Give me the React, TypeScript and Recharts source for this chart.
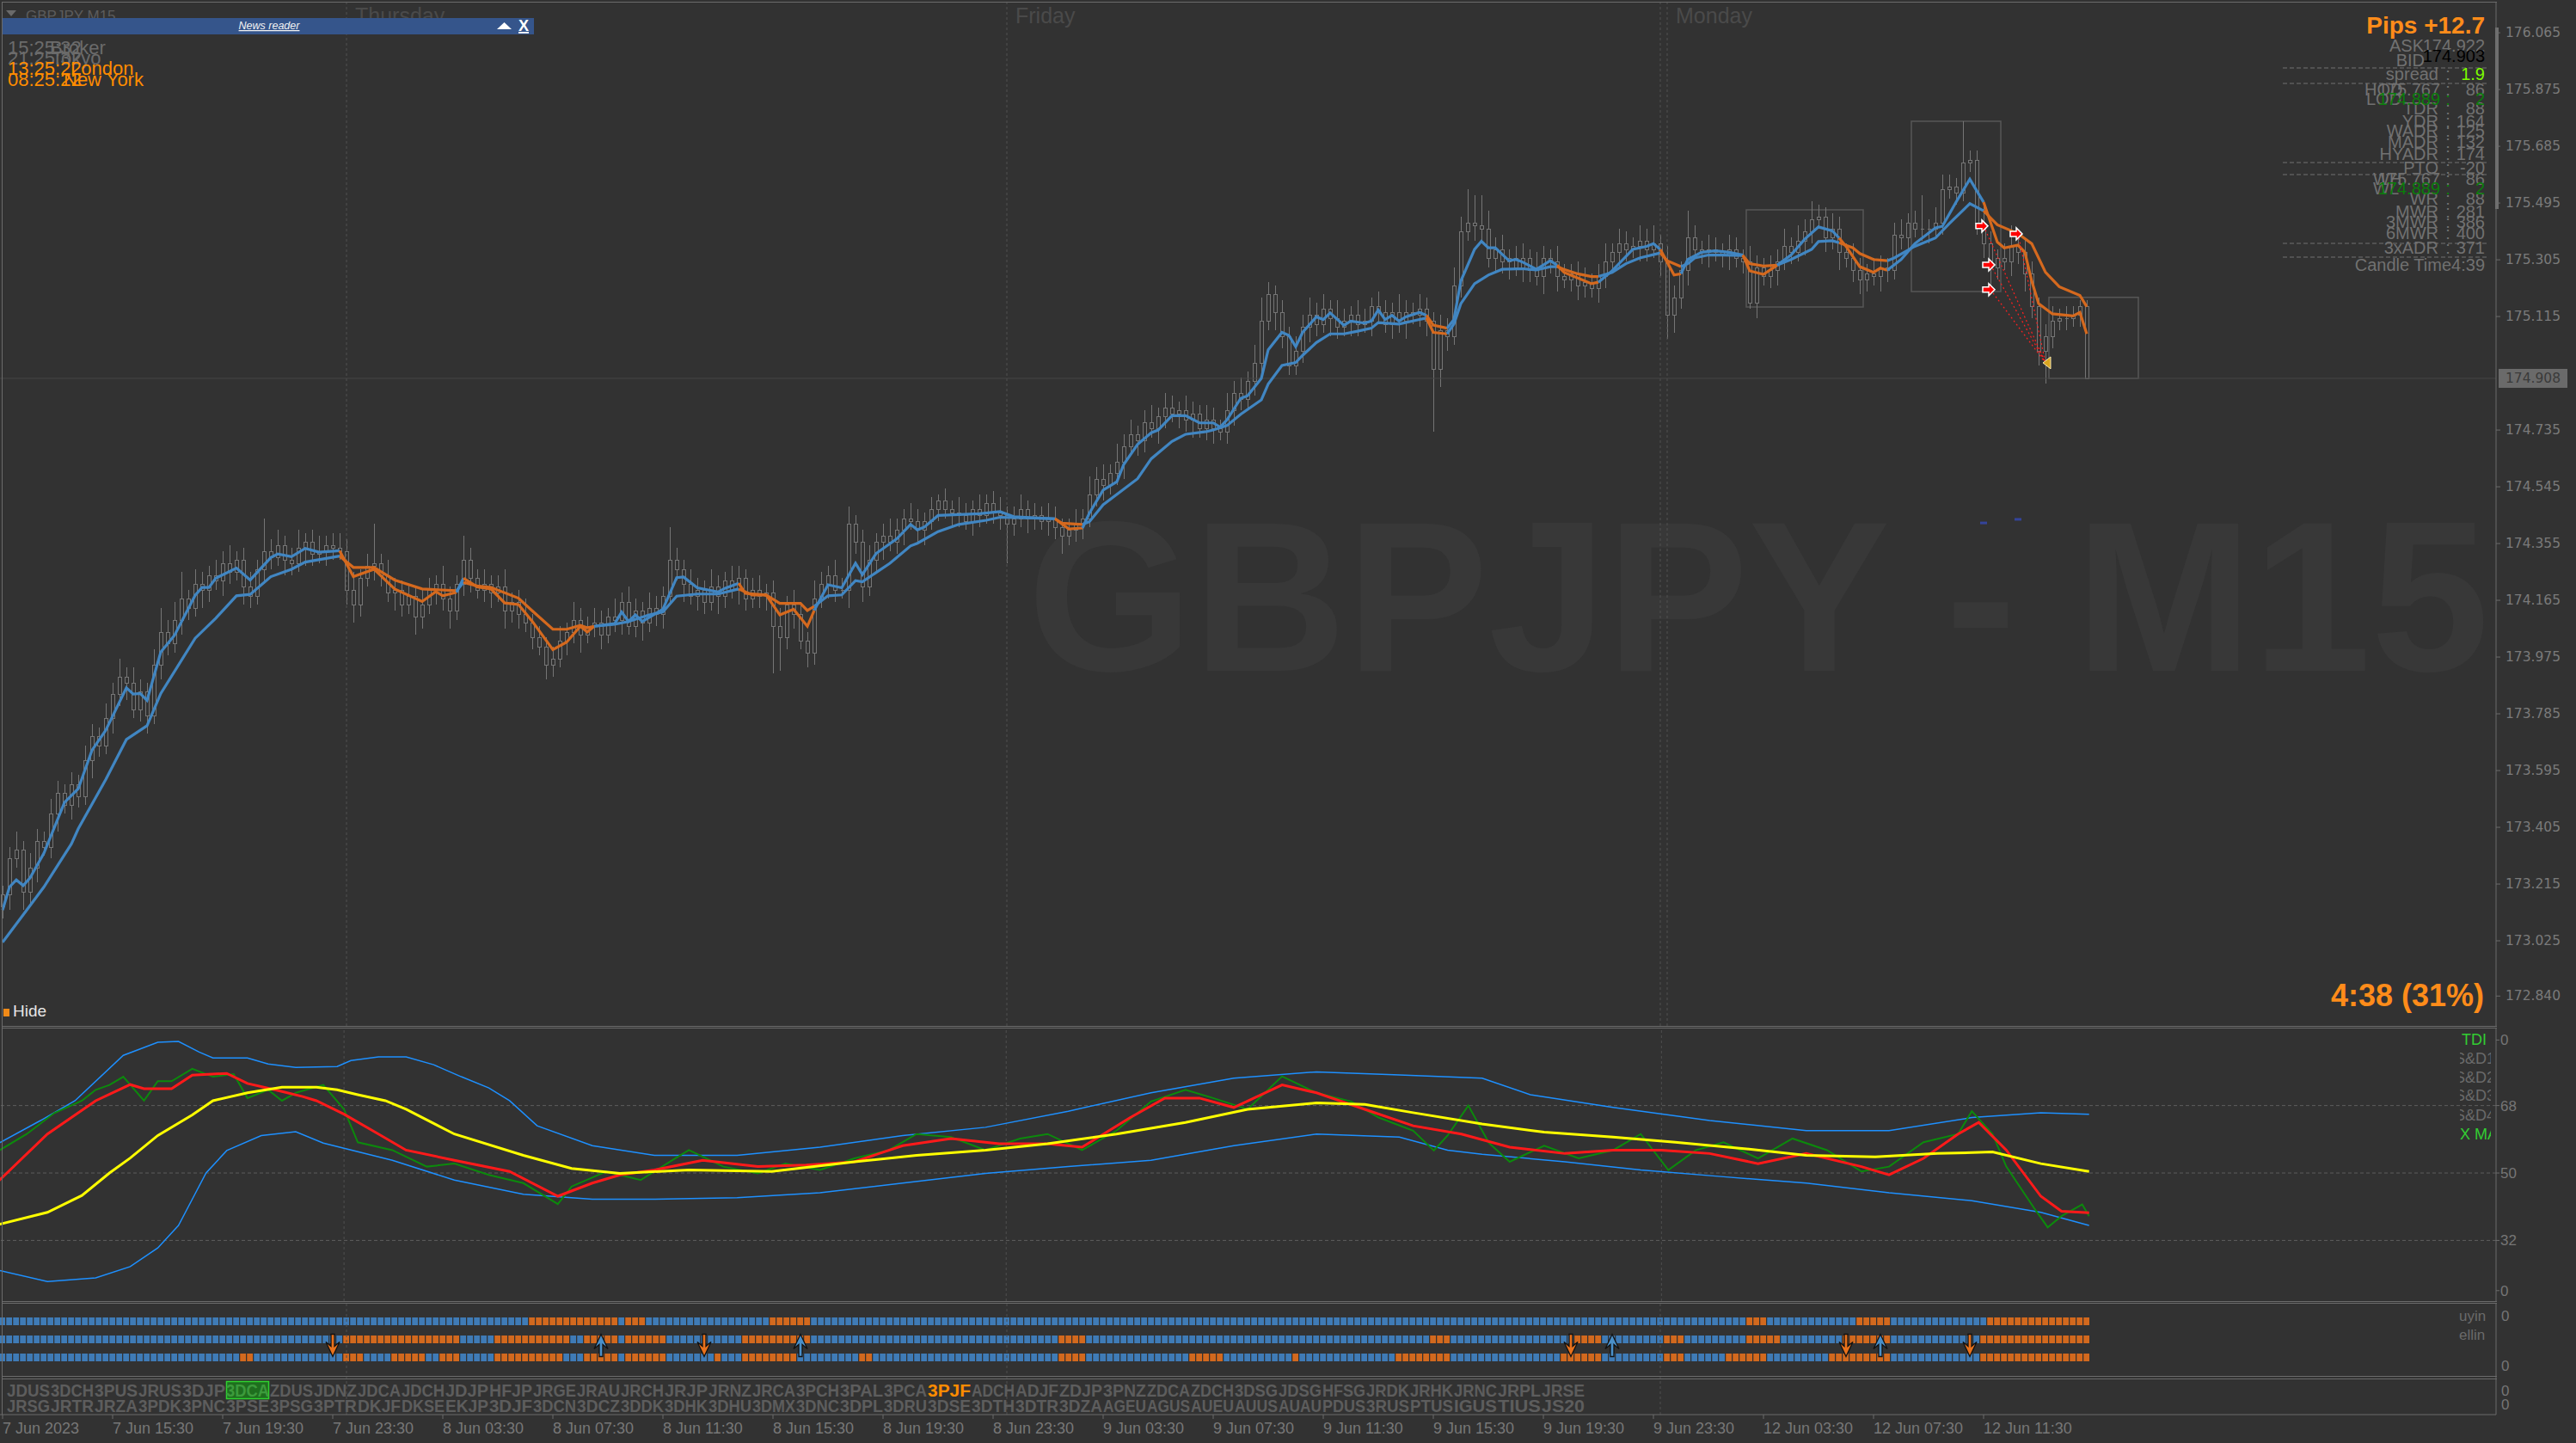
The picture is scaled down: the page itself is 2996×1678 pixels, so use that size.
import React from 'react';
import { ComposedChart, Bar, Line, Scatter, XAxis, YAxis, ReferenceLine, ReferenceArea } from 'recharts';

// ---------------- DATA ----------------
const firstOpen = 173.14;
const closes = [
  173.18,173.30,173.33,173.19,173.27,173.36,173.34,173.45,173.52,173.48,
  173.55,173.51,173.63,173.71,173.68,173.77,173.85,173.91,173.89,173.80,
  173.86,173.78,173.95,174.06,174.02,174.10,174.17,174.14,174.22,174.20,
  174.25,174.23,174.29,174.26,174.30,174.21,174.18,174.27,174.33,174.31,
  174.35,174.30,174.29,174.34,174.36,174.32,174.33,174.35,174.34,174.33,
  174.20,174.15,174.24,174.28,174.29,174.25,174.19,174.20,174.15,174.18,
  174.11,174.15,174.20,174.22,174.17,174.13,174.22,174.30,174.24,174.20,
  174.22,174.19,174.21,174.13,174.16,174.12,174.09,174.04,174.01,173.95,
  173.97,174.03,174.06,174.10,174.05,174.08,174.09,174.05,174.11,174.10,
  174.16,174.08,174.13,174.09,174.14,174.12,174.18,174.30,174.27,174.22,
  174.18,174.20,174.16,174.21,174.18,174.23,174.20,174.24,174.17,174.20,
  174.18,174.19,174.08,174.04,174.15,174.12,174.03,173.99,174.17,174.22,
  174.25,174.20,174.20,174.42,174.36,174.21,174.30,174.36,174.38,174.36,
  174.40,174.44,174.43,174.40,174.43,174.47,174.50,174.47,174.46,174.45,
  174.43,174.47,174.45,174.49,174.46,174.45,174.42,174.44,174.47,174.44,
  174.45,174.43,174.44,174.41,174.38,174.40,174.42,174.44,174.52,174.57,
  174.55,174.59,174.63,174.68,174.72,174.70,174.76,174.74,174.78,174.81,
  174.79,174.80,174.77,174.79,174.74,174.77,174.74,174.73,174.80,174.86,
  174.84,174.90,174.96,175.10,175.19,175.13,175.05,174.95,175.00,175.08,
  175.12,175.09,175.14,175.11,175.08,175.10,175.12,175.09,175.10,175.15,
  175.13,175.09,175.13,175.10,175.13,175.12,175.14,175.10,174.94,175.07,
  175.05,175.22,175.40,175.43,175.42,175.41,175.31,175.34,175.30,175.31,
  175.28,175.31,175.27,175.25,175.31,175.30,175.25,175.24,175.26,175.22,
  175.23,175.21,175.25,175.30,175.33,175.36,175.34,175.35,175.37,175.34,
  175.36,175.30,175.12,175.18,175.27,175.38,175.34,175.33,175.34,175.33,
  175.32,175.34,175.31,175.30,175.16,175.28,175.25,175.27,175.30,175.35,
  175.33,175.37,175.40,175.44,175.45,175.38,175.41,175.33,175.31,175.27,
  175.24,175.26,175.25,175.28,175.27,175.39,175.38,175.43,175.41,175.41,
  175.41,175.43,175.54,175.55,175.53,175.63,175.64,175.43,175.36,175.28,
  175.31,175.30,175.35,175.33,175.26,175.15,175.00,175.05,175.10,175.11,
  175.11,175.12,175.15,174.908,
];
// upper / lower wick lengths in pips (0.01)
const wickUp = [
  3,4,6,3,5,4,3,5,4,3, 4,3,5,4,3,5,4,6,3,5, 4,3,5,8,4,6,9,3,5,4, 3,5,4,6,3,4,5,3,11,4,
  5,3,4,6,3,4,5,3,4,5, 4,6,3,4,13,3,5,4,3,4, 3,5,4,3,6,4,3,8,4,3, 5,3,4,6,3,4,5,3,4,3,
  4,5,3,6,4,3,5,4,3,6, 3,5,4,3,5,4,3,11,4,3, 5,4,3,6,4,3,5,4,3,4, 5,3,4,6,3,5,4,3,6,4,
  3,5,4,6,3,4,5,3,4,6, 4,3,5,4,3,4,2,4,3,5, 4,3,5,3,4,5,3,4,5,3, 4,3,5,4,3,4,5,3,6,4,
  5,3,6,4,5,3,4,6,3,5, 4,3,5,4,3,5,4,3,6,4, 5,3,6,8,4,3,4,3,5,4, 6,4,5,3,6,4,3,5,4,3,
  5,4,3,6,4,3,5,4,3,5, 4,6,5,11,9,10,6,4,5,3, 4,5,3,6,4,3,5,4,3,4, 5,3,4,6,3,5,4,3,5,4,
  6,3,5,4,3,9,4,3,5,4, 3,5,4,3,5,4,3,5,4,6, 3,5,4,6,4,3,5,4,3,5, 4,3,5,4,3,4,5,3,4,11,
  3,5,5,4,3,14,3,3,6,4, 3,5,7,4,5,4,3,4,5,3, 4,3,2,2,
];
const wickDn = [
  4,5,3,6,4,5,3,4,6,3, 5,4,3,6,4,3,5,4,6,3, 4,6,3,5,4,3,5,4,3,6, 4,3,5,4,3,6,4,3,5,4,
  3,5,4,3,6,4,3,5,4,3, 5,6,4,3,5,4,3,6,4,3, 6,4,3,5,4,6,3,4,5,3, 4,5,3,6,4,5,3,4,3,5,
  4,3,5,4,6,3,4,5,3,4, 5,3,4,6,3,4,5,3,4,6, 3,5,4,3,6,4,3,5,4,3, 4,5,16,11,4,5,3,5,4,3,
  5,4,3,6,4,5,3,4,6,3, 4,5,3,4,5,3,4,3,5,4, 3,5,4,3,4,5,13,4,3,5, 4,3,5,4,6,3,4,5,3,4,
  5,3,4,6,3,5,4,3,5,4, 3,5,4,6,3,4,5,3,4,5, 4,3,5,4,3,6,4,3,3,4, 5,4,3,6,4,3,5,4,3,5,
  4,3,5,4,6,3,4,5,21,6, 5,3,4,3,5,4,3,5,4,6, 3,5,4,3,6,4,5,3,4,5, 4,3,5,4,3,5,4,3,5,4,
  3,5,8,6,4,5,3,4,5,3, 4,5,3,4,2,5,3,4,5,3, 4,3,5,4,3,5,4,6,3,4, 5,4,3,5,4,3,4,5,3,4,
  5,3,4,3,4,3,3,4,5,7, 4,3,5,4,6,4,5,11,4,3, 4,3,4,0,
];

// moving averages: [bar, value, colour of segment ending here]
const fastMA: [number, number, string][] = [
  [0,173.128,'b'],[1,173.205,'b'],[2,173.229,'b'],[3,173.21,'b'],[4,173.236,'b'],[6,173.318,'b'],[9,173.488,'b'],[11,173.534,'b'],[13,173.663,'b'],[15,173.73,'b'],[18,173.872,'b'],[19,173.851,'b'],[20,173.853,'b'],[21,173.83,'b'],[23,173.992,'b'],[25,174.048,'b'],[28,174.182,'b'],[29,174.208,'b'],[30,174.208,'b'],[31,174.239,'b'],[34,174.273,'b'],[36,174.233,'b'],[39,174.308,'b'],[40,174.32,'b'],[42,174.311,'b'],[44,174.339,'b'],[46,174.326,'b'],[49,174.331,'b'],
  [51,174.244,'o'],[54,174.269,'o'],[57,174.203,'o'],[61,174.161,'o'],[63,174.194,'o'],[64,174.18,'o'],[66,174.192,'o'],[67,174.239,'b'],[69,174.21,'o'],[71,174.203,'o'],[73,174.156,'o'],[75,174.151,'o'],[77,174.095,'o'],[80,174.0,'o'],[82,174.025,'o'],[84,174.078,'o'],[85,174.059,'o'],[86,174.078,'o'],
  [89,174.087,'b'],[90,174.126,'b'],[91,174.094,'b'],[92,174.116,'b'],[93,174.094,'b'],[96,174.135,'b'],[98,174.241,'b'],[99,174.243,'b'],[101,174.207,'b'],[104,174.193,'b'],[105,174.205,'b'],[107,174.222,'b'],
  [108,174.188,'o'],[111,174.183,'o'],[113,174.116,'o'],[115,174.135,'o'],[117,174.078,'o'],[118,174.131,'o'],
  [120,174.217,'b'],[122,174.207,'b'],[124,174.289,'b'],[125,174.251,'b'],[127,174.322,'b'],[130,174.371,'b'],[132,174.419,'b'],[133,174.401,'b'],[134,174.41,'b'],[136,174.449,'b'],[139,174.452,'b'],[142,174.455,'b'],[145,174.462,'b'],[147,174.445,'b'],[151,174.44,'b'],[153,174.438,'b'],
  [155,174.404,'o'],[157,174.407,'o'],
  [158,174.457,'b'],[160,174.534,'b'],[162,174.562,'b'],[163,174.62,'b'],[165,174.687,'b'],[167,174.726,'b'],[168,174.735,'b'],[170,174.783,'b'],[172,174.783,'b'],[174,174.759,'b'],[176,174.759,'b'],[177,174.745,'b'],[178,174.769,'b'],[180,174.841,'b'],[181,174.85,'b'],[183,174.908,'b'],[184,175.004,'b'],[186,175.062,'b'],[187,175.052,'b'],[188,175.014,'b'],[189,175.062,'b'],[191,175.114,'b'],[192,175.105,'b'],[193,175.127,'b'],[195,175.086,'b'],[196,175.1,'b'],[198,175.093,'b'],[199,175.1,'b'],[200,175.137,'b'],[201,175.105,'b'],[202,175.119,'b'],[203,175.1,'b'],[204,175.114,'b'],[206,175.129,'b'],[207,175.119,'b'],
  [208,175.086,'o'],[210,175.076,'o'],
  [211,175.105,'b'],[212,175.234,'b'],[214,175.34,'b'],[215,175.367,'b'],[216,175.345,'b'],[217,175.345,'b'],[219,175.302,'b'],[220,175.306,'b'],[221,175.297,'b'],[223,175.273,'b'],[225,175.302,'b'],[226,175.287,'b'],
  [227,175.263,'o'],[229,175.244,'o'],[231,175.225,'o'],[232,175.23,'o'],
  [234,175.268,'b'],[237,175.34,'b'],[239,175.35,'b'],[240,175.359,'b'],[241,175.34,'b'],
  [242,175.297,'o'],[243,175.254,'o'],[244,175.258,'o'],
  [245,175.306,'b'],[247,175.33,'b'],[249,175.335,'b'],[251,175.33,'b'],[253,175.321,'b'],
  [254,175.268,'o'],[256,175.256,'o'],[258,175.287,'o'],
  [260,175.321,'b'],[262,175.374,'b'],[264,175.415,'b'],[266,175.402,'b'],[267,175.378,'b'],
  [268,175.35,'o'],[270,175.282,'o'],[272,175.263,'o'],[273,175.277,'o'],[274,175.27,'o'],
  [276,175.306,'b'],[278,175.359,'b'],[281,175.412,'b'],[282,175.417,'b'],[284,175.498,'b'],[286,175.575,'b'],[288,175.498,'b'],
  [290,175.364,'o'],[291,175.345,'o'],[293,175.354,'o'],[294,175.33,'o'],[295,175.234,'o'],[296,175.158,'o'],[298,175.124,'o'],[301,175.117,'o'],[302,175.129,'o'],[303,175.057,'o'],
];
const slowMA: [number, number, string][] = [
  [0,173.02,'b'],[3,173.112,'b'],[6,173.205,'b'],[10,173.349,'b'],[11,173.4,'b'],[15,173.565,'b'],[18,173.699,'b'],[21,173.745,'b'],[23,173.853,'b'],[28,174.038,'b'],[31,174.105,'b'],[34,174.18,'b'],[36,174.185,'b'],[39,174.244,'b'],[42,174.269,'b'],[44,174.293,'b'],[49,174.313,'b'],
  [51,174.275,'o'],[54,174.275,'o'],[57,174.233,'o'],[61,174.203,'o'],[66,174.197,'o'],[67,174.225,'b'],[69,174.213,'o'],[71,174.208,'o'],[75,174.172,'o'],[77,174.13,'o'],[80,174.068,'o'],[82,174.068,'o'],[84,174.081,'o'],[85,174.073,'o'],[86,174.078,'o'],
  [89,174.085,'b'],[91,174.094,'b'],[94,174.116,'b'],[96,174.126,'b'],[98,174.179,'b'],[101,174.186,'b'],[104,174.186,'b'],[107,174.203,'b'],
  [109,174.183,'o'],[111,174.183,'o'],[113,174.155,'o'],[116,174.155,'o'],[117,174.131,'o'],[118,174.145,'o'],
  [120,174.18,'b'],[122,174.183,'b'],[124,174.231,'b'],[125,174.227,'b'],[129,174.289,'b'],[132,174.347,'b'],[133,174.356,'b'],[136,174.395,'b'],[139,174.419,'b'],[143,174.433,'b'],[145,174.443,'b'],[151,174.44,'b'],[153,174.438,'b'],
  [154,174.423,'o'],[157,174.419,'o'],
  [158,174.428,'b'],[160,174.485,'b'],[165,174.572,'b'],[167,174.639,'b'],[170,174.697,'b'],[172,174.721,'b'],[175,174.73,'b'],[176,174.735,'b'],[178,174.75,'b'],[180,174.788,'b'],[183,174.836,'b'],[184,174.889,'b'],[186,174.951,'b'],[188,174.961,'b'],[189,174.985,'b'],[191,175.028,'b'],[193,175.057,'b'],[195,175.057,'b'],[197,175.066,'b'],[199,175.076,'b'],[200,175.095,'b'],[203,175.09,'b'],[206,175.105,'b'],[207,175.11,'b'],
  [208,175.062,'o'],[210,175.057,'o'],
  [211,175.09,'b'],[212,175.158,'b'],[214,175.225,'b'],[216,175.254,'b'],[218,175.273,'b'],[221,175.275,'b'],[223,175.271,'b'],[225,175.282,'b'],[226,175.282,'b'],
  [227,175.273,'o'],[229,175.258,'o'],[231,175.249,'o'],[232,175.249,'o'],
  [234,175.263,'b'],[236,175.292,'b'],[238,175.311,'b'],[241,175.328,'b'],
  [242,175.302,'o'],[244,175.282,'o'],
  [245,175.292,'b'],[246,175.311,'b'],[248,175.321,'b'],[250,175.321,'b'],[253,175.319,'b'],
  [254,175.292,'o'],[256,175.284,'o'],[258,175.287,'o'],
  [260,175.306,'b'],[263,175.34,'b'],[264,175.366,'b'],[266,175.369,'b'],[267,175.362,'b'],
  [269,175.345,'o'],[270,175.326,'o'],[272,175.306,'o'],[274,175.302,'o'],
  [275,175.311,'b'],[278,175.35,'b'],[281,175.378,'b'],[283,175.426,'b'],[286,175.493,'b'],[288,175.469,'b'],
  [290,175.422,'o'],[293,175.393,'o'],[295,175.359,'o'],[297,175.263,'o'],[299,175.215,'o'],[302,175.186,'o'],[303,175.148,'o'],
];

// TDI panel [bar, value]
const tdiYellow: [number, number][] = [[0,36.3],[7,39.5],[12,44],[16,50],[19,54],[23,60],[28,65.5],[31,69.3],[36,71.4],[41,72.9],[46,72.9],[49,72.2],[52,70.9],[56,69.3],[59,67],[66,60.4],[76,54.7],[83,51.2],[90,49.9],[100,50.8],[112,50.4],[124,53],[133,54.7],[143,56.1],[152,57.8],[162,60.4],[172,63.5],[181,67],[191,68.7],[198,68.3],[205,66.1],[215,63.1],[224,60.9],[234,59.6],[243,58.2],[253,56.5],[262,54.7],[272,54.3],[281,55.2],[289,55.6],[296,52.5],[303,50.4]];
const tdiUpper: [number, number][] = [[0,58],[6,64],[11,69.3],[18,81.4],[23,84.9],[26,85.1],[29,82.3],[31,80.7],[36,80.7],[39,79.1],[43,78.2],[49,78.4],[51,80],[55,81],[59,81],[63,78.9],[67,75.7],[71,72.7],[74,69.3],[78,62.6],[86,57.3],[95,54.7],[107,54.7],[119,56.9],[131,60],[143,62.2],[155,66.5],[167,71.4],[179,75.3],[191,77],[203,76.2],[215,75.3],[222,70.9],[234,67.5],[248,64],[262,61.3],[274,61.3],[286,64.8],[296,66.1],[303,65.7]];
const tdiLower: [number, number][] = [[0,24],[7,21],[14,22],[19,25],[23,30],[26,36],[28,43],[30,50],[33,56],[38,60],[43,61],[47,58],[57,53.4],[66,48.1],[76,44.3],[86,43],[95,43],[107,43.4],[119,44.7],[131,47.3],[143,49.9],[155,51.7],[167,53.4],[179,57.3],[191,60.4],[203,59.6],[210,56.1],[215,55],[227,53],[238,50.8],[250,49],[262,47.3],[274,44.7],[286,42.6],[296,39.5],[303,36]];
const tdiGreen: [number, number][] = [[0,56],[4,60.4],[8,66],[12,69.3],[14,72.2],[16,73.5],[18,75.7],[21,69.3],[23,74.5],[25,74.5],[28,77.8],[31,75.7],[34,76.4],[36,70],[39,72.2],[41,69.3],[43,71.4],[47,73.5],[50,67],[52,58.2],[57,56.1],[62,51.7],[66,52.5],[71,49.5],[76,47.3],[81,41.7],[83,46.4],[88,50.4],[93,48.1],[98,53.9],[100,56.1],[105,51.7],[110,49.9],[114,52.5],[119,50.8],[124,53.9],[129,56.1],[133,60.4],[138,59.6],[143,56.1],[148,59.2],[152,60.4],[157,56.1],[162,61.3],[167,69.1],[172,72.2],[176,70],[181,67],[186,75.8],[191,71.4],[196,69.1],[200,64.8],[205,61.3],[208,56],[210,60],[213,68],[216,58],[219,53],[224,57.3],[229,53.9],[234,56.1],[238,60.4],[242,50.8],[246,56.1],[250,58.2],[255,53.9],[260,59.2],[265,56.1],[270,50.4],[274,51.7],[279,58.2],[284,60.4],[286,66.5],[289,60.4],[291,51.7],[295,40.7],[297,35.5],[299,38.5],[302,41.6],[303,38.5]];
const tdiRed: [number, number][] = [[0,48],[7,60.4],[14,69.3],[19,73.6],[21,72.5],[25,72.5],[28,76.1],[33,76.6],[36,73.9],[40,72.2],[44,70.4],[46,69.3],[50,65.7],[55,60.4],[59,56.1],[66,53.4],[74,50.4],[81,43.8],[86,47.3],[90,49.5],[95,50.8],[102,53.4],[110,51.7],[117,52.1],[124,53],[131,57.3],[138,59.2],[145,57.8],[152,57.8],[157,56.9],[164,64.8],[169,70],[174,70],[179,67.5],[186,73.5],[191,71.4],[198,67],[205,62.6],[212,60.4],[219,56.9],[227,55.2],[234,56.1],[241,56.1],[248,55.2],[255,52.5],[262,55.2],[270,51.7],[274,49.5],[279,53.9],[284,60.4],[287,63.5],[291,56.1],[296,43.8],[299,39.8],[303,39.4]];

// signal rows (runs of bars): [from, to, 'b'|'o']
const row1Runs: [number, number, string][] = [[0,76,'b'],[77,89,'o'],[90,90,'b'],[91,93,'o'],[94,111,'b'],[112,117,'o'],[118,253,'b'],[254,256,'o'],[257,269,'b'],[270,274,'o'],[275,288,'b'],[289,303,'o']];
const row2Runs: [number, number, string][] = [[0,49,'b'],[50,66,'o'],[67,71,'b'],[72,82,'o'],[83,84,'b'],[85,89,'o'],[90,90,'b'],[91,96,'o'],[97,107,'b'],[108,117,'o'],[118,153,'b'],[154,157,'o'],[158,207,'b'],[208,210,'o'],[211,228,'b'],[229,232,'o'],[233,241,'b'],[242,244,'o'],[245,253,'b'],[254,258,'o'],[259,267,'b'],[268,274,'o'],[275,287,'b'],[288,303,'o']];
const row3Runs: [number, number, string][] = [[0,34,'b'],[35,36,'o'],[37,49,'b'],[50,52,'o'],[53,56,'b'],[57,61,'o'],[62,63,'b'],[64,66,'o'],[67,71,'b'],[72,81,'o'],[82,84,'b'],[85,89,'o'],[90,90,'b'],[91,96,'o'],[97,103,'b'],[104,104,'o'],[105,107,'b'],[108,115,'o'],[116,124,'b'],[125,126,'o'],[127,153,'b'],[154,157,'o'],[158,172,'b'],[173,177,'o'],[178,187,'b'],[188,188,'o'],[189,202,'b'],[203,210,'o'],[211,226,'b'],[227,232,'o'],[233,241,'b'],[242,244,'o'],[245,250,'b'],[251,256,'o'],[257,265,'b'],[266,274,'o'],[275,287,'b'],[288,303,'o']];
const downArrows = [48, 102, 228, 268, 286];
const upArrows = [87, 116, 234, 273];

// trade markers & boxes
const tradeArrows: [number, number][] = [[288,175.418],[289,175.288],[289,175.205],[293,175.392]];
const tradeTarget: [number, number] = [297, 174.96];
const closeMarks: [number, number][] = [[288,174.424],[293,174.436]];
const boxes = [
  { i1: 254, i2: 270, hi: 175.472, lo: 175.147 },
  { i1: 278, i2: 290, hi: 175.769, lo: 175.199 },
  { i1: 298, i2: 310, hi: 175.179, lo: 174.908 },
];
const currentPrice = 174.908;

const priceTicks = [176.065,175.875,175.685,175.495,175.305,175.115,174.735,174.545,174.355,174.165,173.975,173.785,173.595,173.405,173.215,173.025,172.840];
const tdiTicks = [85.5, 68, 50, 32, 18.6];
const tdiTickLabels = ['0', '68', '50', '32', '0'];
const timeTickIdx = [0,16,32,48,64,80,96,112,128,144,160,176,192,208,224,240,256,272,288];
const timeLabels = ['7 Jun 2023','7 Jun 15:30','7 Jun 19:30','7 Jun 23:30','8 Jun 03:30','8 Jun 07:30','8 Jun 11:30','8 Jun 15:30','8 Jun 19:30','8 Jun 23:30','9 Jun 03:30','9 Jun 07:30','9 Jun 11:30','9 Jun 15:30','9 Jun 19:30','9 Jun 23:30','12 Jun 03:30','12 Jun 07:30','12 Jun 11:30'];
const daySeps = [{ i: 50, label: 'Thursday' }, { i: 146, label: 'Friday' }, { i: 241, label: '' }, { i: 242, label: 'Monday' }];

const ccyRow1 = ['JDUS','3DCH','3PUS','JRUS','3DJP','3DCA','ZDUS','JDNZ','JDCA','JDCH','JDJP','HFJP','JRGE','JRAU','JRCH','JRJP','JRNZ','JRCA','3PCH','3PAL','3PCA','3PJF','ADCH','ADJF','ZDJP','3PNZ','ZDCA','ZDCH','3DSG','JDSG','HFSG','JRDK','JRHK','JRNC','JRPL','JRSE'];
const ccyRow2 = ['JRSG','JRTR','JRZA','3PDK','3PNC','3PSE','3PSG','3PTR','DKJF','DKSE','EKJP','3DJF','3DCN','3DCZ','3DDK','3DHK','3DHU','3DMX','3DNC','3DPL','3DRU','3DSE','3DTH','3DTR','3DZA','AGEU','AGUS','AUEU','AUUS','AUAU','PDUS','3RUS','PTUS','IGUS','TIUS','JS20'];

const infoRows = [
  { label: 'spread', value: '1.9', y: 93, vc: '#7cfc00' },
  { label: 'TDR', value: '88', y: 133 },
  { label: 'YDR', value: '164', y: 148 },
  { label: 'WADR', value: '125', y: 159 },
  { label: 'MADR', value: '132', y: 172 },
  { label: 'HYADR', value: '174', y: 186 },
  { label: 'PTO', value: '-20', y: 202 },
  { label: 'WR', value: '88', y: 238 },
  { label: 'MWR', value: '281', y: 253 },
  { label: '3MWR', value: '386', y: 265 },
  { label: '6MWR', value: '400', y: 278 },
  { label: '3xADR', value: '371', y: 295 },
];

// ---------------- BUILD TABLES ----------------
const W = 2996, H = 1678;
const BG = '#323232';
const FRAME = '#6b6b6b';
const GT = '#717171';
const SANS = '"Liberation Sans", Arial, sans-serif';
const MA_COL: Record<string, string> = { b: '#4186c2', o: '#d5691e' };
const NSLOT = 363;

type Row = Record<string, any>;
const mkRows = (): Row[] => Array.from({ length: NSLOT }, (_, i) => ({ i }));

const mainRows = mkRows();
closes.forEach((c, i) => {
  const o = i === 0 ? firstOpen : closes[i - 1];
  const hi = Math.max(o, c) + (wickUp[i] ?? 3) / 100;
  const lo = Math.min(o, c) - (wickDn[i] ?? 3) / 100;
  Object.assign(mainRows[i], { o, c, hl: [lo, hi] });
});

function addRuns(rows: Row[], pts: [number, number, string][], prefix: string) {
  const runs: { color: string; pts: [number, number, string][] }[] = [];
  pts.forEach((pt, k) => {
    if (k === 0) { runs.push({ color: pt[2], pts: [pt] }); return; }
    const cur = runs[runs.length - 1];
    if (pt[2] === cur.color) cur.pts.push(pt);
    else runs.push({ color: pt[2], pts: [pts[k - 1], pt] });
  });
  return runs.map((run, j) => {
    const key = prefix + j;
    run.pts.forEach(([i, v]) => { rows[i][key] = v; });
    return { key, color: MA_COL[run.color] };
  });
}
const slowRuns = addRuns(mainRows, slowMA, 's');
const fastRuns = addRuns(mainRows, fastMA, 'f');
tradeArrows.forEach(([i, p], k) => { mainRows[i]['mk' + k] = p; });
mainRows[tradeTarget[0]].tg = tradeTarget[1];
closeMarks.forEach(([i, p], k) => { mainRows[i]['cm' + k] = p; });

const tdiRows = mkRows();
const tdiSeries = [
  { key: 'bu', pts: tdiUpper, color: '#1e90ff', w: 1.5 },
  { key: 'bl', pts: tdiLower, color: '#1e90ff', w: 1.5 },
  { key: 'gr', pts: tdiGreen, color: '#0c8a0c', w: 2 },
  { key: 'rd', pts: tdiRed, color: '#ff1a1a', w: 3 },
  { key: 'ye', pts: tdiYellow, color: '#ffff00', w: 3 },
];
tdiSeries.forEach((s) => s.pts.forEach(([i, v]) => { tdiRows[i][s.key] = v; }));

const expand = (runs: [number, number, string][]) => {
  const a: string[] = [];
  runs.forEach(([s, e, c]) => { for (let i = s; i <= e; i++) a[i] = c; });
  return a;
};
const c1 = expand(row1Runs), c2 = expand(row2Runs), c3 = expand(row3Runs);
const barRows = mkRows();
closes.forEach((_, i) => Object.assign(barRows[i], { span: [62, 113], c1: c1[i], c2: c2[i], c3: c3[i] }));
downArrows.forEach((i) => { barRows[i].dn = 80.5; });
upArrows.forEach((i) => { barRows[i].ua = 80.5; });

// ---------------- SHAPES ----------------
const CANDLE = '#757575';
const renderCandle = (p: any) => {
  const { x, y, width, height, payload } = p;
  if (!payload || !payload.hl) return <g />;
  const [lo, hi] = payload.hl;
  const top = Math.min(y, y + height), hh = Math.abs(height);
  const py = (v: number) => (hi === lo ? top : top + ((hi - v) / (hi - lo)) * hh);
  const cx = Math.floor(x + width / 2) + 0.5;
  const bt = Math.round(py(Math.max(payload.o, payload.c))) + 0.5;
  const bb = Math.round(py(Math.min(payload.o, payload.c))) + 0.5;
  return (
    <g shapeRendering="crispEdges">
      <line x1={cx} x2={cx} y1={top} y2={bt} stroke={CANDLE} strokeWidth={1} />
      <line x1={cx} x2={cx} y1={bb} y2={top + hh} stroke={CANDLE} strokeWidth={1} />
      {bb - bt < 1 ? (
        <line x1={cx - 2} x2={cx + 2} y1={bt} y2={bt} stroke={CANDLE} strokeWidth={1} />
      ) : (
        <rect x={cx - 2} y={bt} width={4} height={bb - bt} fill="none" stroke={CANDLE} strokeWidth={1} />
      )}
    </g>
  );
};

const CELL: Record<string, [string, string]> = { b: ['#3f7bb6', '#346699'], o: ['#d2691e', '#b0561a'] };
const renderCells = (p: any) => {
  const { x, y, width, height, payload } = p;
  if (!payload || !payload.span) return <g />;
  const top = Math.min(y, y + height), hh = Math.abs(height);
  const [lo, hi] = payload.span;
  const py = (v: number) => top + ((hi - v) / (hi - lo)) * hh;
  const defs: [number, number, string][] = [[104, 113, payload.c1], [83, 92, payload.c2], [62, 71, payload.c3]];
  return (
    <g shapeRendering="crispEdges">
      {defs.map(([a, b, c], k) => {
        const col = CELL[c] || CELL.b;
        return (
          <g key={k}>
            <rect x={x} y={py(b)} width={width} height={py(a) - py(b)} fill={col[0]} />
            <line x1={x + 0.5} x2={x + 0.5} y1={py(b)} y2={py(a)} stroke={col[1]} strokeWidth={1} />
          </g>
        );
      })}
    </g>
  );
};

const downShape = (p: any) => {
  if (!p.payload || p.payload.dn == null) return <g />;
  const { cx, cy } = p;
  return <path d={`M${cx - 2},${cy - 13} L${cx + 2},${cy - 13} L${cx + 2},${cy + 1} L${cx + 8},${cy - 4} L${cx},${cy + 13} L${cx - 8},${cy - 4} L${cx - 2},${cy + 1} Z`} fill="#e8711c" stroke="#111111" strokeWidth={1.3} />;
};
const upShape = (p: any) => {
  if (!p.payload || p.payload.ua == null) return <g />;
  const { cx, cy } = p;
  return <path d={`M${cx - 2},${cy + 13} L${cx + 2},${cy + 13} L${cx + 2},${cy - 1} L${cx + 8},${cy + 4} L${cx},${cy - 13} L${cx - 8},${cy + 4} L${cx - 2},${cy - 1} Z`} fill="#4a8fc8" stroke="#111111" strokeWidth={1.3} />;
};
const arrowShape = (key: string) => (p: any) => {
  if (!p.payload || p.payload[key] == null) return <g />;
  const { cx, cy } = p;
  const x = cx - 2;
  return <path d={`M${x - 7},${cy - 3} L${x},${cy - 3} L${x},${cy - 7} L${x + 7},${cy} L${x},${cy + 7} L${x},${cy + 3} L${x - 7},${cy + 3} Z`} fill="#ff0000" stroke="#ffffff" strokeWidth={1.5} />;
};
const targetShape = (p: any) => {
  if (!p.payload || p.payload.tg == null) return <g />;
  const { cx, cy } = p;
  return <path d={`M${cx + 6},${cy - 7} L${cx + 6},${cy + 7} L${cx - 3},${cy} Z`} fill="#daa520" stroke="#f5e6b0" strokeWidth={1} />;
};
const closeShape = (key: string) => (p: any) => {
  if (!p.payload || p.payload[key] == null) return <g />;
  const { cx, cy } = p;
  return <rect x={cx - 4} y={cy - 1.5} width={8} height={3} fill="#34449a" />;
};

const PriceTick = (p: any) => (
  <text x={p.x} y={p.y} dy={5} textAnchor="start" fill="#7a7a7a" fontFamily='"DejaVu Sans", Verdana, sans-serif' fontSize={15.5}>
    {Number(p.payload.value).toFixed(3)}
  </text>
);
const TdiTick = (p: any) => {
  const k = tdiTicks.indexOf(p.payload.value);
  return (
    <text x={p.x} y={p.y} dy={6} textAnchor="start" fill="#757575" fontFamily={SANS} fontSize={17}>
      {k >= 0 ? tdiTickLabels[k] : ''}
    </text>
  );
};
const TimeTick = (p: any) => {
  const k = timeTickIdx.indexOf(p.payload.value);
  return (
    <text x={p.x} y={p.y} dy={15} textAnchor="start" fill="#777777" fontFamily={SANS} fontSize={18}>
      {k >= 0 ? timeLabels[k] : ''}
    </text>
  );
};
const PriceTag = (p: any) => {
  const vb = p.viewBox || {};
  const x = (vb.x || 0) + (vb.width || 0) + 3;
  const y = vb.y || 0;
  return (
    <g>
      <rect x={x} y={y - 11} width={80} height={22} fill="#6a6a6a" />
      <text x={x + 8} y={y + 5} fill="#3a3a3a" fontFamily='"DejaVu Sans", Verdana, sans-serif' fontSize={15.5}>
        {currentPrice.toFixed(3)}
      </text>
    </g>
  );
};
const DayLabel = (label: string) => (p: any) => {
  const vb = p.viewBox || {};
  return (
    <text x={(vb.x || 0) + 10} y={(vb.y || 0) + 25} fill="#4a4a4a" fontFamily={SANS} fontSize={25}>
      {label}
    </text>
  );
};

const noAnim = { isAnimationActive: false } as const;

// ---------------- CHARTS ----------------
const MainChart = () => (
  <ComposedChart width={W} height={1193} data={mainRows} margin={{ top: 2, right: 0, bottom: 0, left: -1 }}>
    <XAxis dataKey="i" type="category" hide />
    <YAxis orientation="right" type="number" width={93} domain={[172.74, 176.169]} allowDataOverflow ticks={priceTicks} interval={0}
      tick={PriceTick} tickSize={5} tickMargin={6} axisLine={{ stroke: FRAME }} tickLine={{ stroke: FRAME }} />
    {daySeps.map((d) => (
      <ReferenceLine key={d.i} x={d.i} stroke="#515151" strokeDasharray="3 3" label={d.label ? DayLabel(d.label) : undefined} />
    ))}
    <ReferenceLine y={currentPrice} stroke="#474747" label={PriceTag} />
    {boxes.map((b, k) => (
      <ReferenceArea key={k} x1={b.i1} x2={b.i2} y1={b.lo} y2={b.hi} fill="none" fillOpacity={0} stroke="#575757" strokeWidth={1.5} ifOverflow="extendDomain" />
    ))}
    <Bar dataKey="hl" barSize={5} shape={renderCandle} {...noAnim} />
    {slowRuns.map((r) => (
      <Line key={r.key} dataKey={r.key} stroke={r.color} strokeWidth={3.2} dot={false} connectNulls type="linear" {...noAnim} />
    ))}
    {fastRuns.map((r) => (
      <Line key={r.key} dataKey={r.key} stroke={r.color} strokeWidth={3.2} dot={false} connectNulls type="linear" {...noAnim} />
    ))}
    {tradeArrows.map(([i, p], k) => (
      <ReferenceLine key={'tl' + k} segment={[{ x: i, y: p }, { x: tradeTarget[0], y: tradeTarget[1] }]} stroke="#ff2020" strokeDasharray="2 3" strokeWidth={1.2} />
    ))}
    {closeMarks.map((_, k) => (
      <Scatter key={'cm' + k} dataKey={'cm' + k} shape={closeShape('cm' + k)} {...noAnim} />
    ))}
    {tradeArrows.map((_, k) => (
      <Scatter key={'mk' + k} dataKey={'mk' + k} shape={arrowShape('mk' + k)} {...noAnim} />
    ))}
    <Scatter dataKey="tg" shape={targetShape} {...noAnim} />
  </ComposedChart>
);

const TdiChart = () => (
  <ComposedChart width={W} height={318} data={tdiRows} margin={{ top: 0, right: 0, bottom: 0, left: -1 }}>
    <XAxis dataKey="i" type="category" hide />
    <YAxis orientation="right" type="number" width={93} domain={[15.8, 88.8]} allowDataOverflow ticks={tdiTicks} interval={0}
      tick={TdiTick} tickSize={4} tickMargin={1} axisLine={{ stroke: FRAME }} tickLine={{ stroke: FRAME }} />
    {[68, 50, 32].map((v) => (
      <ReferenceLine key={v} y={v} stroke="#5d5d5d" strokeDasharray="4 3" />
    ))}
    {daySeps.slice(0, 3).map((d) => (
      <ReferenceLine key={d.i} x={d.i} stroke="#4f4f4f" strokeDasharray="3 3" />
    ))}
    {tdiSeries.map((s) => (
      <Line key={s.key} dataKey={s.key} stroke={s.color} strokeWidth={s.w} dot={false} connectNulls type="linear" {...noAnim} />
    ))}
  </ComposedChart>
);

const SignalChart = () => (
  <ComposedChart width={W} height={163} data={barRows} margin={{ top: 0, right: 0, bottom: 0, left: -1 }}>
    <XAxis dataKey="i" type="category" height={33} ticks={timeTickIdx} interval={0} tick={TimeTick}
      tickSize={5} tickMargin={2} axisLine={{ stroke: FRAME }} tickLine={{ stroke: FRAME }} />
    <YAxis orientation="right" type="number" width={93} domain={[0, 130]} allowDataOverflow tick={false} tickLine={false} axisLine={{ stroke: FRAME }} />
    {daySeps.slice(0, 3).map((d) => (
      <ReferenceLine key={d.i} x={d.i} stroke="#4f4f4f" strokeDasharray="3 3" />
    ))}
    <Bar dataKey="span" barSize={8} shape={renderCells} {...noAnim} />
    <Scatter dataKey="dn" shape={downShape} {...noAnim} />
    <Scatter dataKey="ua" shape={upShape} {...noAnim} />
  </ComposedChart>
);

// ---------------- DECORATION ----------------
const Back = () => (
  <svg width={W} height={H} style={{ position: 'absolute', left: 0, top: 0 }}>
    <rect x={0} y={0} width={W} height={H} fill={BG} />
    <text x={2895} y={780} textAnchor="end" fill="#383838" fontFamily={SANS} fontWeight="bold" fontSize={248} textLength={1700} lengthAdjust="spacingAndGlyphs">
      GBPJPY - M15
    </text>
  </svg>
);

const T = (props: any) => <text fontFamily={SANS} {...props} />;

const Front = () => {
  const hl = (y: number) => <line x1={2} x2={2904} y1={y} y2={y} stroke={FRAME} strokeWidth={1} />;
  const dash = (y: number, k: number) => <line key={k} x1={2655} x2={2892} y1={y} y2={y} stroke="#707070" strokeDasharray="5 3" strokeWidth={1} />;
  return (
    <svg width={W} height={H} style={{ position: 'absolute', left: 0, top: 0, pointerEvents: 'none' }}>
      <defs>
        <clipPath id="tdiClip"><rect x={2861} y={1196} width={36} height={140} /></clipPath>
      </defs>
      {/* frames */}
      {hl(2.5)}
      {hl(1193.5)}
      {hl(1195.5)}
      {hl(1513.5)}
      {hl(1515.5)}
      {hl(1600.5)}
      {hl(1603.5)}
      <line x1={2.5} x2={2.5} y1={2} y2={1645} stroke={FRAME} />
      <rect x={2902} y={32} width={4} height={211} fill="#6e6e6e" />

      {/* top-left */}
      <path d="M7,12 L19,12 L13,19 Z" fill="#6a6a6a" />
      <T x={30} y={24} fill="#5c5c5c" fontSize={17}>GBPJPY M15</T>
      <rect x={3} y={21} width={618} height={19} fill="#35558b" />
      <T x={313} y={34} fill="#f2f2f2" fontSize={12.5} fontStyle="italic" textAnchor="middle" textDecoration="underline">News reader</T>
      <path d="M578,34 L595,34 L586.5,26 Z" fill="#ffffff" />
      <T x={609} y={36} fill="#ffffff" fontSize={18} fontWeight="bold" textAnchor="middle" textDecoration="underline">X</T>
      <T x={9} y={63} fill="#6b6b6b" fontSize={22}>15:25:32</T>
      <T x={58} y={63} fill="#6b6b6b" fontSize={22}>Broker</T>
      <T x={9} y={75} fill="#6b6b6b" fontSize={22}>21:25:32</T>
      <T x={60} y={75} fill="#6b6b6b" fontSize={22}>Tokyo</T>
      <T x={9} y={87} fill="#ff8c00" fontSize={22}>13:25:22</T>
      <T x={82} y={87} fill="#ff8c00" fontSize={22}>London</T>
      <T x={9} y={100} fill="#ff8c00" fontSize={22}>08:25:22</T>
      <T x={74} y={100} fill="#ff8c00" fontSize={22}>New York</T>

      {/* top-right info */}
      <T x={2890} y={39} fill="#ff8c1a" fontSize={28} fontWeight="bold" textAnchor="end">Pips +12.7</T>
      <T x={2819} y={60} fill={GT} fontSize={20} textAnchor="end">ASK</T>
      <T x={2890} y={60} fill={GT} fontSize={20} textAnchor="end">174.922</T>
      <T x={2820} y={77} fill={GT} fontSize={20} textAnchor="end">BID</T>
      <T x={2890} y={72} fill="#000000" fontSize={20} textAnchor="end">174.903</T>
      {[79, 97, 189, 203, 283, 299].map((y, k) => dash(y, k))}
      {infoRows.map((r, k) => (
        <g key={k}>
          <T x={2836} y={r.y} fill={GT} fontSize={20} textAnchor="end">{r.label}</T>
          <T x={2847} y={r.y} fill={GT} fontSize={20} textAnchor="middle">:</T>
          <T x={2890} y={r.y} fill={r.vc || GT} fontSize={20} textAnchor="end">{r.value}</T>
        </g>
      ))}
      <T x={2750} y={111} fill={GT} fontSize={20}>HOD</T>
      <T x={2838} y={111} fill={GT} fontSize={20} textAnchor="end">175.767</T>
      <T x={2847} y={111} fill={GT} fontSize={20} textAnchor="middle">:</T>
      <T x={2890} y={111} fill={GT} fontSize={20} textAnchor="end">86</T>
      <T x={2752} y={122} fill={GT} fontSize={20}>LOD</T>
      <T x={2838} y={122} fill="#0a7d0a" fontSize={20} textAnchor="end">174.889</T>
      <T x={2847} y={122} fill="#0a7d0a" fontSize={20} textAnchor="middle">:</T>
      <T x={2890} y={122} fill="#0a7d0a" fontSize={20} textAnchor="end">2</T>
      <T x={2760} y={215} fill={GT} fontSize={20}>WH</T>
      <T x={2838} y={215} fill={GT} fontSize={20} textAnchor="end">175.767</T>
      <T x={2847} y={215} fill={GT} fontSize={20} textAnchor="middle">:</T>
      <T x={2890} y={215} fill={GT} fontSize={20} textAnchor="end">86</T>
      <T x={2760} y={226} fill={GT} fontSize={20}>WL</T>
      <T x={2838} y={226} fill="#0a7d0a" fontSize={20} textAnchor="end">174.889</T>
      <T x={2847} y={226} fill="#0a7d0a" fontSize={20} textAnchor="middle">:</T>
      <T x={2890} y={226} fill="#0a7d0a" fontSize={20} textAnchor="end">2</T>
      <T x={2890} y={315} fill={GT} fontSize={20} textAnchor="end">Candle Time4:39</T>

      {/* bottom of main */}
      <T x={2889} y={1170} fill="#ff8c1a" fontSize={36} fontWeight="bold" textAnchor="end">4:38 (31%)</T>
      <rect x={4} y={1173} width={7} height={9} fill="#f08a18" />
      <T x={15} y={1182} fill="#e6e6e6" fontSize={19}>Hide</T>

      {/* TDI labels */}
      <g clipPath="url(#tdiClip)">
        <T x={2863} y={1215} fill="#32cd32" fontSize={18}>TDI</T>
        <T x={2855} y={1237} fill="#6a6a6a" fontSize={18}>S&amp;D1</T>
        <T x={2855} y={1259} fill="#6a6a6a" fontSize={18}>S&amp;D2</T>
        <T x={2855} y={1280} fill="#6a6a6a" fontSize={18}>S&amp;D3</T>
        <T x={2855} y={1303} fill="#6a6a6a" fontSize={18}>S&amp;D4</T>
        <T x={2861} y={1325} fill="#32cd32" fontSize={18}>X MA</T>
      </g>

      {/* signal panel labels */}
      <T x={2860} y={1536} fill="#6a6a6a" fontSize={17}>uyin</T>
      <T x={2860} y={1558} fill="#6a6a6a" fontSize={17}>ellin</T>
      <T x={2909} y={1536} fill="#757575" fontSize={17}>0</T>
      <T x={2909} y={1594} fill="#757575" fontSize={17}>0</T>
      <T x={2909} y={1623} fill="#757575" fontSize={17}>0</T>
      <T x={2909} y={1639} fill="#757575" fontSize={17}>0</T>

      {/* currency strip */}
      <rect x={263.5} y={1606.5} width={49} height={20} fill="#1e6e1e" stroke="#2fd22f" strokeWidth={1.5} />
      {ccyRow1.map((s, k) => (
        <T key={'a' + k} x={8 + k * 51} y={1624} fill={k === 21 ? '#ff8c00' : k === 5 ? '#3c9a3c' : '#5d5d5d'} fontSize={20} fontWeight="bold" textLength={50} lengthAdjust="spacingAndGlyphs">{s}</T>
      ))}
      {ccyRow2.map((s, k) => (
        <T key={'b' + k} x={8 + k * 51} y={1642} fill="#5d5d5d" fontSize={20} fontWeight="bold" textLength={50} lengthAdjust="spacingAndGlyphs">{s}</T>
      ))}
    </svg>
  );
};

export default function App() {
  return (
    <div style={{ position: 'relative', width: W, height: H, overflow: 'hidden', background: BG }}>
      <style>{'body{margin:0;background:#323232;}'}</style>
      <Back />
      <div style={{ position: 'absolute', left: 0, top: 0 }}><MainChart /></div>
      <div style={{ position: 'absolute', left: 0, top: 1195 }}><TdiChart /></div>
      <div style={{ position: 'absolute', left: 0, top: 1515 }}><SignalChart /></div>
      <Front />
    </div>
  );
}
